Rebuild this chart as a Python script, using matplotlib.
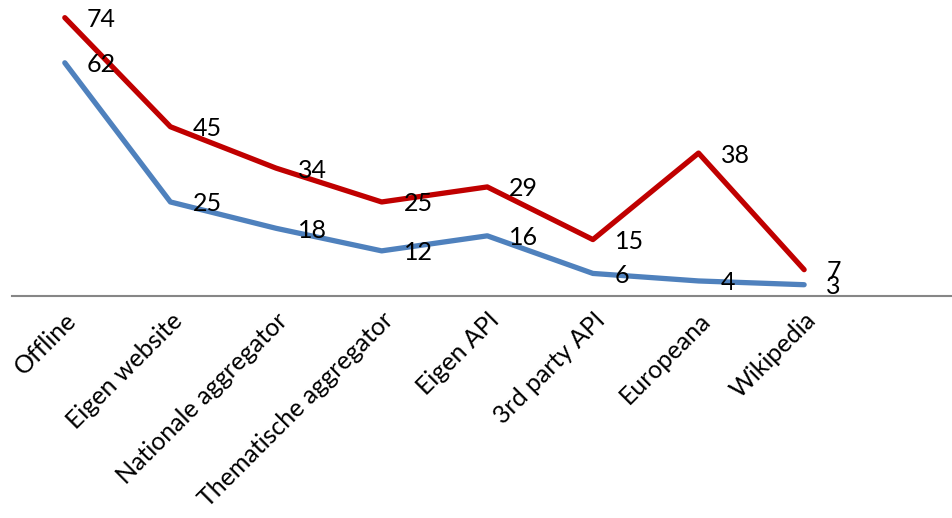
import matplotlib
matplotlib.use("Agg")
import matplotlib.pyplot as plt

categories = ["Offline", "Eigen website", "Nationale aggregator", "Thematische aggregator",
              "Eigen API", "3rd party API", "Europeana", "Wikipedia"]
red_values = [74, 45, 34, 25, 29, 15, 38, 7]
blue_values = [62, 25, 18, 12, 16, 6, 4, 3]

plt.rcParams['font.family'] = ['Lato', 'DejaVu Sans']

fig = plt.figure(figsize=(9.52, 5.18), dpi=100)
ax = fig.add_axes([12 / 952, (518 - 296) / 518, 940 / 952, 296 / 518])

x = list(range(len(categories)))
ax.plot(x, blue_values, color="#4F81BD", lw=3.8, solid_capstyle="round", solid_joinstyle="round")
ax.plot(x, red_values, color="#C00000", lw=3.8, solid_capstyle="round", solid_joinstyle="round")

for xs, ys in [(x, red_values), (x, blue_values)]:
    for xi, yi in zip(xs, ys):
        ax.annotate(str(yi), (xi, yi), xytext=(22, -2), textcoords="offset pixels",
                    ha="left", va="center", fontsize=18, color="black")

ax.set_xlim(-0.5, 8.4)
ax.set_ylim(0, 78.7)
ax.set_xticks(x)
ax.set_xticklabels(categories, rotation=45, ha="right", rotation_mode="anchor", fontsize=18)
ax.tick_params(axis="x", length=0, pad=9)
ax.set_yticks([])
for side in ["top", "right", "left"]:
    ax.spines[side].set_visible(False)
ax.spines["bottom"].set_color("#868686")
ax.spines["bottom"].set_linewidth(1.5)
ax.spines["bottom"].set_zorder(0)

fig.savefig("out.png", dpi=100)
